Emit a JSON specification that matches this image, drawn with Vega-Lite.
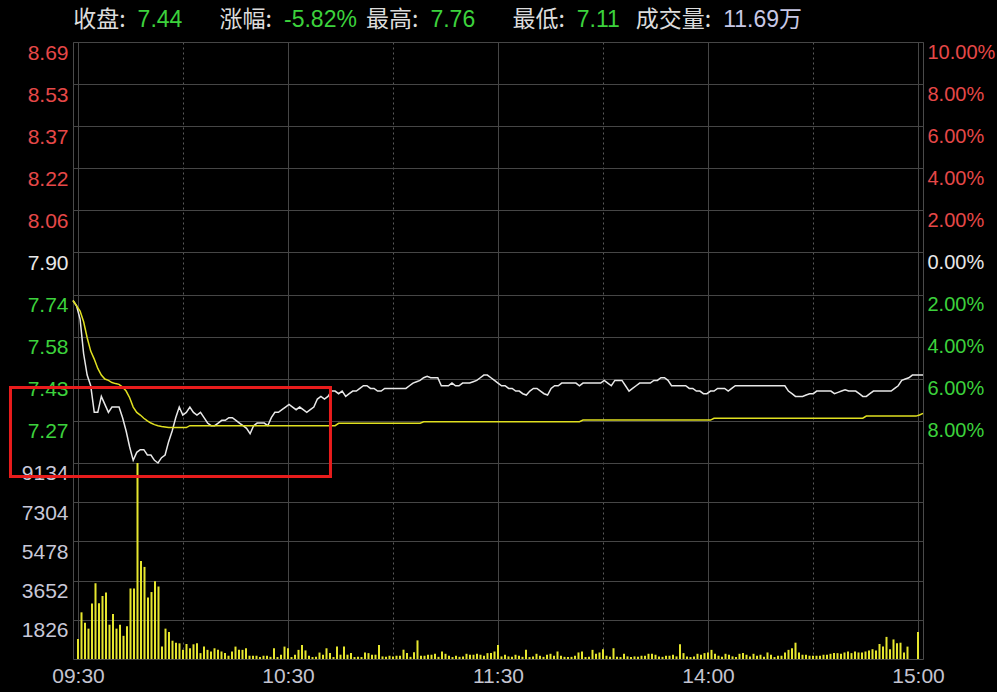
{
"$schema":"https://vega.github.io/schema/vega-lite/v6.json",
"width":850,"height":617,
"autosize":{"type":"none"},
"padding":{"left":73,"top":42,"right":74,"bottom":33},
"background":"#000000",
"config":{"font":"Liberation Sans, Noto Sans CJK SC","view":{"stroke":"#4a4a4a","strokeWidth":1},
"axis":{"labelFont":"Liberation Sans","labelFontSize":21,"title":null,"domain":false,"ticks":false,"tickSize":0,"gridColor":"#464646","gridWidth":1,"labelOverlap":false,"labelFlush":false}},
"datasets":{
"hdr":[{"k":1,"lab":"收盘:","val":"7.44"},{"k":2,"lab":"涨幅:","val":"-5.82%"},{"k":3,"lab":"最高:","val":"7.76"},{"k":4,"lab":"最低:","val":"7.11"},{"k":5,"lab":"成交量:","val":"11.69万"}],
"m":[
{"t":0,"p":7.72,"a":7.72,"v":928},{"t":1,"p":7.70,"a":7.70,"v":2175},{"t":2,"p":7.65,"a":7.68,"v":1690},{"t":3,"p":7.52,"a":7.64,"v":1415},{"t":4,"p":7.44,"a":7.58,"v":2587},{"t":5,"p":7.40,"a":7.53,"v":3530},{"t":6,"p":7.30,"a":7.50,"v":2600},{"t":7,"p":7.30,"a":7.465,"v":2937},{"t":8,"p":7.36,"a":7.44,"v":3104},{"t":9,"p":7.33,"a":7.425,"v":1598},
{"t":10,"p":7.30,"a":7.42,"v":2100},{"t":11,"p":7.32,"a":7.412,"v":1415},{"t":12,"p":7.32,"a":7.408,"v":1598},{"t":13,"p":7.32,"a":7.405,"v":1080},{"t":14,"p":7.28,"a":7.395,"v":1522},{"t":15,"p":7.23,"a":7.38,"v":3287},{"t":16,"p":7.17,"a":7.355,"v":3287},{"t":17,"p":7.12,"a":7.32,"v":9134},{"t":18,"p":7.15,"a":7.30,"v":4565},{"t":19,"p":7.16,"a":7.29,"v":4291},
{"t":20,"p":7.16,"a":7.278,"v":2861},{"t":21,"p":7.14,"a":7.268,"v":3120},{"t":22,"p":7.14,"a":7.26,"v":3622},{"t":23,"p":7.12,"a":7.254,"v":3378},{"t":24,"p":7.11,"a":7.25,"v":578},{"t":25,"p":7.13,"a":7.247,"v":1415},{"t":26,"p":7.14,"a":7.245,"v":1263},{"t":27,"p":7.19,"a":7.243,"v":852},{"t":28,"p":7.23,"a":7.243,"v":761},{"t":29,"p":7.28,"a":7.243,"v":730},
{"t":30,"p":7.32,"a":7.243,"v":426},{"t":31,"p":7.29,"a":7.243,"v":700},{"t":32,"p":7.30,"a":7.243,"v":500},{"t":33,"p":7.32,"a":7.25,"v":685},{"t":34,"p":7.30,"a":7.25,"v":730},{"t":35,"p":7.29,"a":7.25,"v":274},{"t":36,"p":7.30,"a":7.25,"v":578},{"t":37,"p":7.28,"a":7.25,"v":426},{"t":38,"p":7.26,"a":7.25,"v":350},{"t":39,"p":7.25,"a":7.25,"v":500},
{"t":40,"p":7.25,"a":7.25,"v":426},{"t":41,"p":7.26,"a":7.25,"v":350},{"t":42,"p":7.27,"a":7.25,"v":274},{"t":43,"p":7.27,"a":7.25,"v":152},{"t":44,"p":7.28,"a":7.25,"v":350},{"t":45,"p":7.28,"a":7.25,"v":578},{"t":46,"p":7.27,"a":7.25,"v":426},{"t":47,"p":7.26,"a":7.25,"v":426},{"t":48,"p":7.25,"a":7.25,"v":500},{"t":49,"p":7.24,"a":7.25,"v":152},
{"t":50,"p":7.22,"a":7.25,"v":152},{"t":51,"p":7.25,"a":7.25,"v":152},{"t":52,"p":7.26,"a":7.25,"v":91},{"t":53,"p":7.26,"a":7.25,"v":152},{"t":54,"p":7.26,"a":7.25,"v":152},{"t":55,"p":7.25,"a":7.25,"v":100},{"t":56,"p":7.28,"a":7.25,"v":500},{"t":57,"p":7.30,"a":7.25,"v":91},{"t":58,"p":7.30,"a":7.25,"v":200},{"t":59,"p":7.31,"a":7.25,"v":578},
{"t":60,"p":7.32,"a":7.25,"v":500},{"t":61,"p":7.33,"a":7.25,"v":91},{"t":62,"p":7.32,"a":7.25,"v":200},{"t":63,"p":7.31,"a":7.25,"v":426},{"t":64,"p":7.32,"a":7.25,"v":654},{"t":65,"p":7.31,"a":7.25,"v":400},{"t":66,"p":7.30,"a":7.25,"v":152},{"t":67,"p":7.31,"a":7.25,"v":91},{"t":68,"p":7.32,"a":7.25,"v":100},{"t":69,"p":7.35,"a":7.25,"v":300},
{"t":70,"p":7.36,"a":7.25,"v":200},{"t":71,"p":7.35,"a":7.25,"v":500},{"t":72,"p":7.36,"a":7.25,"v":274},{"t":73,"p":7.38,"a":7.25,"v":91},{"t":74,"p":7.38,"a":7.25,"v":578},{"t":75,"p":7.37,"a":7.259,"v":200},{"t":76,"p":7.38,"a":7.259,"v":578},{"t":77,"p":7.36,"a":7.259,"v":200},{"t":78,"p":7.37,"a":7.259,"v":274},{"t":79,"p":7.38,"a":7.259,"v":91},
{"t":80,"p":7.38,"a":7.259,"v":100},{"t":81,"p":7.39,"a":7.259,"v":91},{"t":82,"p":7.40,"a":7.259,"v":300},{"t":83,"p":7.40,"a":7.259,"v":274},{"t":84,"p":7.39,"a":7.259,"v":200},{"t":85,"p":7.39,"a":7.259,"v":200},{"t":86,"p":7.38,"a":7.259,"v":654},{"t":87,"p":7.38,"a":7.259,"v":120},{"t":88,"p":7.39,"a":7.259,"v":100},{"t":89,"p":7.39,"a":7.259,"v":152},
{"t":90,"p":7.39,"a":7.259,"v":120},{"t":91,"p":7.39,"a":7.259,"v":152},{"t":92,"p":7.39,"a":7.259,"v":152},{"t":93,"p":7.39,"a":7.259,"v":434},{"t":94,"p":7.39,"a":7.259,"v":279},{"t":95,"p":7.40,"a":7.259,"v":100},{"t":96,"p":7.41,"a":7.259,"v":310},{"t":97,"p":7.415,"a":7.259,"v":868},{"t":98,"p":7.42,"a":7.259,"v":152},{"t":99,"p":7.43,"a":7.265,"v":152},
{"t":100,"p":7.435,"a":7.265,"v":198},{"t":101,"p":7.43,"a":7.265,"v":198},{"t":102,"p":7.43,"a":7.265,"v":243},{"t":103,"p":7.43,"a":7.265,"v":100},{"t":104,"p":7.40,"a":7.265,"v":350},{"t":105,"p":7.40,"a":7.265,"v":243},{"t":106,"p":7.40,"a":7.265,"v":152},{"t":107,"p":7.41,"a":7.265,"v":91},{"t":108,"p":7.40,"a":7.265,"v":152},{"t":109,"p":7.40,"a":7.265,"v":100},
{"t":110,"p":7.41,"a":7.265,"v":122},{"t":111,"p":7.41,"a":7.265,"v":243},{"t":112,"p":7.41,"a":7.265,"v":198},{"t":113,"p":7.415,"a":7.265,"v":198},{"t":114,"p":7.42,"a":7.265,"v":243},{"t":115,"p":7.43,"a":7.265,"v":198},{"t":116,"p":7.44,"a":7.265,"v":152},{"t":117,"p":7.44,"a":7.265,"v":274},{"t":118,"p":7.43,"a":7.265,"v":274},{"t":119,"p":7.42,"a":7.265,"v":350},
{"t":120,"p":7.41,"a":7.265,"v":654},{"t":121,"p":7.40,"a":7.265,"v":120},{"t":122,"p":7.40,"a":7.265,"v":198},{"t":123,"p":7.39,"a":7.265,"v":122},{"t":124,"p":7.39,"a":7.265,"v":100},{"t":125,"p":7.38,"a":7.265,"v":198},{"t":126,"p":7.38,"a":7.265,"v":152},{"t":127,"p":7.37,"a":7.265,"v":100},{"t":128,"p":7.365,"a":7.265,"v":426},{"t":129,"p":7.38,"a":7.265,"v":91},
{"t":130,"p":7.39,"a":7.265,"v":122},{"t":131,"p":7.39,"a":7.265,"v":243},{"t":132,"p":7.38,"a":7.265,"v":152},{"t":133,"p":7.37,"a":7.265,"v":100},{"t":134,"p":7.365,"a":7.265,"v":198},{"t":135,"p":7.39,"a":7.265,"v":243},{"t":136,"p":7.40,"a":7.265,"v":152},{"t":137,"p":7.40,"a":7.265,"v":350},{"t":138,"p":7.41,"a":7.265,"v":152},{"t":139,"p":7.41,"a":7.265,"v":100},
{"t":140,"p":7.41,"a":7.265,"v":91},{"t":141,"p":7.41,"a":7.265,"v":100},{"t":142,"p":7.41,"a":7.265,"v":152},{"t":143,"p":7.40,"a":7.265,"v":304},{"t":144,"p":7.41,"a":7.271,"v":350},{"t":145,"p":7.41,"a":7.271,"v":91},{"t":146,"p":7.41,"a":7.271,"v":100},{"t":147,"p":7.41,"a":7.271,"v":426},{"t":148,"p":7.41,"a":7.271,"v":243},{"t":149,"p":7.41,"a":7.271,"v":304},
{"t":150,"p":7.42,"a":7.271,"v":456},{"t":151,"p":7.41,"a":7.271,"v":152},{"t":152,"p":7.40,"a":7.271,"v":100},{"t":153,"p":7.42,"a":7.271,"v":502},{"t":154,"p":7.42,"a":7.271,"v":100},{"t":155,"p":7.42,"a":7.271,"v":91},{"t":156,"p":7.40,"a":7.271,"v":243},{"t":157,"p":7.38,"a":7.271,"v":122},{"t":158,"p":7.39,"a":7.271,"v":91},{"t":159,"p":7.40,"a":7.271,"v":122},
{"t":160,"p":7.41,"a":7.271,"v":100},{"t":161,"p":7.41,"a":7.271,"v":152},{"t":162,"p":7.41,"a":7.271,"v":152},{"t":163,"p":7.41,"a":7.271,"v":243},{"t":164,"p":7.42,"a":7.271,"v":243},{"t":165,"p":7.42,"a":7.271,"v":198},{"t":166,"p":7.43,"a":7.271,"v":122},{"t":167,"p":7.43,"a":7.271,"v":100},{"t":168,"p":7.42,"a":7.271,"v":152},{"t":169,"p":7.40,"a":7.271,"v":152},
{"t":170,"p":7.40,"a":7.271,"v":198},{"t":171,"p":7.40,"a":7.271,"v":122},{"t":172,"p":7.40,"a":7.271,"v":684},{"t":173,"p":7.40,"a":7.271,"v":274},{"t":174,"p":7.39,"a":7.271,"v":122},{"t":175,"p":7.39,"a":7.271,"v":91},{"t":176,"p":7.38,"a":7.271,"v":122},{"t":177,"p":7.38,"a":7.271,"v":243},{"t":178,"p":7.37,"a":7.271,"v":198},{"t":179,"p":7.37,"a":7.271,"v":274},
{"t":180,"p":7.38,"a":7.271,"v":304},{"t":181,"p":7.38,"a":7.278,"v":426},{"t":182,"p":7.39,"a":7.278,"v":243},{"t":183,"p":7.39,"a":7.278,"v":152},{"t":184,"p":7.39,"a":7.278,"v":100},{"t":185,"p":7.38,"a":7.278,"v":243},{"t":186,"p":7.39,"a":7.278,"v":198},{"t":187,"p":7.40,"a":7.278,"v":122},{"t":188,"p":7.40,"a":7.278,"v":91},{"t":189,"p":7.40,"a":7.278,"v":243},
{"t":190,"p":7.40,"a":7.278,"v":274},{"t":191,"p":7.40,"a":7.278,"v":198},{"t":192,"p":7.40,"a":7.278,"v":122},{"t":193,"p":7.40,"a":7.278,"v":243},{"t":194,"p":7.40,"a":7.278,"v":152},{"t":195,"p":7.40,"a":7.278,"v":198},{"t":196,"p":7.40,"a":7.278,"v":100},{"t":197,"p":7.40,"a":7.278,"v":304},{"t":198,"p":7.40,"a":7.278,"v":198},{"t":199,"p":7.40,"a":7.278,"v":91},
{"t":200,"p":7.40,"a":7.278,"v":152},{"t":201,"p":7.40,"a":7.278,"v":152},{"t":202,"p":7.38,"a":7.278,"v":304},{"t":203,"p":7.37,"a":7.278,"v":426},{"t":204,"p":7.36,"a":7.278,"v":502},{"t":205,"p":7.36,"a":7.278,"v":760},{"t":206,"p":7.36,"a":7.278,"v":304},{"t":207,"p":7.365,"a":7.278,"v":198},{"t":208,"p":7.37,"a":7.278,"v":198},{"t":209,"p":7.37,"a":7.278,"v":152},
{"t":210,"p":7.38,"a":7.278,"v":152},{"t":211,"p":7.38,"a":7.278,"v":152},{"t":212,"p":7.38,"a":7.278,"v":152},{"t":213,"p":7.38,"a":7.278,"v":198},{"t":214,"p":7.38,"a":7.278,"v":198},{"t":215,"p":7.37,"a":7.278,"v":243},{"t":216,"p":7.375,"a":7.278,"v":274},{"t":217,"p":7.38,"a":7.278,"v":274},{"t":218,"p":7.385,"a":7.278,"v":243},{"t":219,"p":7.38,"a":7.278,"v":304},
{"t":220,"p":7.38,"a":7.278,"v":350},{"t":221,"p":7.38,"a":7.278,"v":274},{"t":222,"p":7.37,"a":7.278,"v":350},{"t":223,"p":7.36,"a":7.278,"v":304},{"t":224,"p":7.36,"a":7.286,"v":304},{"t":225,"p":7.37,"a":7.286,"v":350},{"t":226,"p":7.38,"a":7.286,"v":395},{"t":227,"p":7.38,"a":7.286,"v":456},{"t":228,"p":7.38,"a":7.286,"v":395},{"t":229,"p":7.38,"a":7.286,"v":700},
{"t":230,"p":7.38,"a":7.286,"v":578},{"t":231,"p":7.38,"a":7.286,"v":1030},{"t":232,"p":7.39,"a":7.286,"v":456},{"t":233,"p":7.40,"a":7.286,"v":912},{"t":234,"p":7.42,"a":7.286,"v":730},{"t":235,"p":7.425,"a":7.286,"v":760},{"t":236,"p":7.43,"a":7.286,"v":300},{"t":237,"p":7.44,"a":7.286,"v":578},{"t":238,"p":7.44,"a":7.286,"v":0},{"t":239,"p":7.44,"a":7.29,"v":0},
{"t":240,"p":7.44,"a":7.296,"v":1260}
]},
"layer":[
{"data":{"name":"m"},
 "mark":{"type":"bar","color":"#e6e62e","width":2},
 "encoding":{
  "x":{"field":"t","type":"quantitative","scale":{"domain":[0,240],"nice":false,"zero":false},
   "axis":{"values":[0,30,60,90,120,150,180,210,240],"grid":true,"labelPadding":6,"labelBaseline":"top","labelColor":"#c4c4d0","labelFontSize":21,
    "labelExpr":"datum.value == 0 ? '09:30' : datum.value == 60 ? '10:30' : datum.value == 120 ? '11:30' : datum.value == 180 ? '14:00' : datum.value == 240 ? '15:00' : ''",
    "gridDash":{"condition":{"test":"datum.value % 60 == 30","value":[2,3]},"value":[]},
    "gridColor":{"condition":{"test":"datum.value % 60 == 30","value":"#5a5a5a"},"value":"#464646"}}},
  "y":{"field":"v","type":"quantitative","scale":{"domain":[0,28753],"nice":false,"zero":true},
   "axis":{"orient":"left","values":[1826,3652,5478,7304,9134],"format":"d","grid":true,"labelPadding":5,"labelBaseline":"top","labelColor":"#c8c8d8"}}
 }},
{"data":{"name":"m"},
 "mark":{"type":"line","color":"#e8e8e8","strokeWidth":1.5},
 "encoding":{
  "x":{"field":"t","type":"quantitative","scale":{"domain":[0,240],"nice":false,"zero":false},"axis":null},
  "y":{"field":"p","type":"quantitative","scale":{"domain":[6.3744,8.69],"nice":false,"zero":false},
   "axis":{"orient":"left","values":[7.268,7.426,7.584,7.742,7.9,8.058,8.216,8.374,8.532,8.69],"grid":true,"labelPadding":5,"labelBaseline":"top",
    "labelExpr":"format(datum.value, '.2f')",
    "labelColor":{"condition":[{"test":"datum.value > 7.95","value":"#e64848"},{"test":"datum.value < 7.85","value":"#3cd23c"}],"value":"#e8e8e8"}}}
 }},
{"data":{"name":"m"},
 "mark":{"type":"line","color":"#e0e020","strokeWidth":1.5},
 "encoding":{
  "x":{"field":"t","type":"quantitative","scale":{"domain":[0,240],"nice":false,"zero":false},"axis":null},
  "y":{"field":"a","type":"quantitative","scale":{"domain":[6.3744,8.69],"nice":false,"zero":false},
   "axis":{"orient":"right","values":[7.268,7.426,7.584,7.742,7.9,8.058,8.216,8.374,8.532,8.69],"grid":false,"labelPadding":4,"labelFontSize":20,"labelBaseline":"top","labelAlign":"left",
    "labelExpr":"format(abs(datum.value - 7.9) / 7.9 * 100, '.2f') + '%'",
    "labelColor":{"condition":[{"test":"datum.value > 7.95","value":"#e64848"},{"test":"datum.value < 7.85","value":"#3cd23c"}],"value":"#e8e8e8"}}}
 }},
{"data":{"values":[{}]},
 "mark":{"type":"rect","filled":false,"stroke":"#e81c1c","strokeWidth":3},
 "encoding":{
  "x":{"datum":-17.65,"type":"quantitative","scale":{"domain":[0,240],"nice":false,"zero":false},"axis":null},
  "x2":{"datum":72.7},
  "y":{"datum":7.393,"type":"quantitative","scale":{"domain":[6.3744,8.69],"nice":false,"zero":false},"axis":null},
  "y2":{"datum":7.059}
 }},
{"data":{"name":"hdr"},
 "mark":{"type":"text","align":"right","baseline":"middle","dx":0,"fontSize":23,"font":"Noto Sans CJK SC","color":"#dcdcdc"},
 "encoding":{
  "x":{"field":"k","type":"ordinal","scale":{"type":"point","padding":0.903,"align":0.199},"axis":null},
  "y":{"datum":8.7726,"type":"quantitative","scale":{"domain":[6.3744,8.69],"nice":false,"zero":false},"axis":null},
  "text":{"field":"lab"}
 }},
{"data":{"name":"hdr"},
 "mark":{"type":"text","align":"left","baseline":"middle","dx":12,"fontSize":23,"font":"Liberation Sans, Noto Sans CJK SC"},
 "encoding":{
  "x":{"field":"k","type":"ordinal","scale":{"type":"point","padding":0.903,"align":0.199},"axis":null},
  "y":{"datum":8.7726,"type":"quantitative","scale":{"domain":[6.3744,8.69],"nice":false,"zero":false},"axis":null},
  "text":{"field":"val"},
  "color":{"condition":{"test":"datum.k == 5","value":"#c8c8e6"},"value":"#3cd23c"}
 }}
],
"resolve":{"scale":{"x":"independent","y":"independent"}}
}
